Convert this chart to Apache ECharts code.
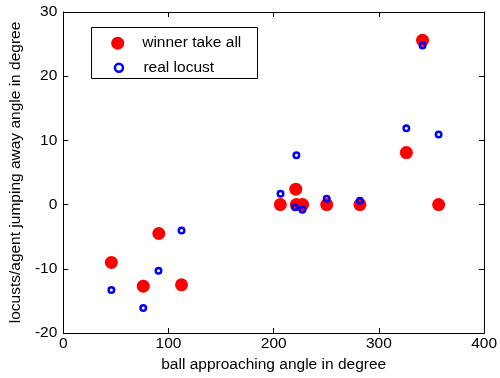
<!DOCTYPE html>
<html>
<head>
<meta charset="utf-8">
<script src="https://cdn.jsdelivr.net/npm/echarts@6/dist/echarts.min.js"></script>
<style>html,body{margin:0;padding:0;background:#fff;}#c{width:500px;height:378px;}</style>
</head>
<body>
<div id="c"></div>
<script>
// Data
const winnerX = [45.7, 76, 90.8, 112.4, 206.3, 221, 221.5, 227.5, 250.4, 282, 326.1, 341.5, 356.8];
const winnerY = [-9.0, -12.7, -4.5, -12.5, 0, 2.4, 0, 0, 0, 0, 8.1, 25.6, 0];
const locustX = [45.7, 76, 90.5, 112.4, 206.5, 221.6, 220.3, 227.3, 250.4, 282, 326.1, 341.5, 356.8];
const locustY = [-13.3, -16.1, -10.3, -4.05, 1.7, 7.7, -0.4, -0.8, 0.9, 0.6, 11.9, 24.8, 10.9];
const xTicks = [0, 100, 200, 300, 400];
const yTicks = [-20, -10, 0, 10, 20, 30];
const seriesNames = ['winner take all', 'real locust'];
const xTitle = 'ball approaching angle in degree';
const yTitle = 'locusts/agent jumping away angle in degree';

const FONT = 'Liberation Sans, Arial, sans-serif';
const FS = 15.5;
const zip = (a, b) => a.map((v, i) => [v, b[i]]);

const axisCommon = {
  axisLine: { show: true, onZero: false, lineStyle: { color: '#000', width: 1 } },
  axisTick: { show: true, inside: true, length: 5, lineStyle: { color: '#000' } },
  splitLine: { show: false }
};

const chart = echarts.init(document.getElementById('c'), null, { renderer: 'canvas' });
chart.setOption({
  animation: false,
  backgroundColor: '#fff',
  grid: { left: 59, right: 15.5, top: 12, bottom: 45, containLabel: false },
  xAxis: [
    Object.assign({}, axisCommon, {
      type: 'value', position: 'bottom',
      min: xTicks[0], max: xTicks[xTicks.length - 1], interval: xTicks[1] - xTicks[0],
      name: xTitle, nameLocation: 'middle', nameGap: 23,
      nameTextStyle: { color: '#000', fontFamily: FONT, fontSize: FS },
      axisLabel: { color: '#000', fontFamily: FONT, fontSize: FS, margin: 3 }
    }),
    Object.assign({}, axisCommon, {
      type: 'value', position: 'top',
      min: xTicks[0], max: xTicks[xTicks.length - 1], interval: xTicks[1] - xTicks[0],
      axisLabel: { show: false }
    })
  ],
  yAxis: [
    Object.assign({}, axisCommon, {
      type: 'value', position: 'left',
      min: yTicks[0], max: yTicks[yTicks.length - 1], interval: yTicks[1] - yTicks[0],
      name: yTitle, nameLocation: 'middle', nameGap: 38,
      nameTextStyle: { color: '#000', fontFamily: FONT, fontSize: FS },
      axisLabel: { color: '#000', fontFamily: FONT, fontSize: FS, margin: 6 }
    }),
    Object.assign({}, axisCommon, {
      type: 'value', position: 'right',
      min: yTicks[0], max: yTicks[yTicks.length - 1], interval: yTicks[1] - yTicks[0],
      axisLabel: { show: false }
    })
  ],
  graphic: [{
    type: 'rect', left: 91, top: 27, z: 3,
    shape: { width: 166, height: 51 },
    style: { fill: '#fff', stroke: '#000', lineWidth: 1 }
  }],
  legend: [
    {
      data: [seriesNames[0]], left: 111.2, top: 35.2, padding: 0,
      itemWidth: 13, itemHeight: 13, icon: 'circle', z: 5,
      itemStyle: { color: '#ff0000', borderWidth: 0 },
      textStyle: { color: '#000', fontFamily: FONT, fontSize: FS, padding: [0, 0, 0, 13] }
    },
    {
      data: [seriesNames[1]], left: 113.7, top: 59.7, padding: 0,
      itemWidth: 8, itemHeight: 8, icon: 'circle', z: 5,
      itemStyle: { color: '#fff', borderColor: '#0000ff', borderWidth: 2.5 },
      textStyle: { color: '#000', fontFamily: FONT, fontSize: FS, padding: [0, 0, 0, 15.5] }
    }
  ],
  series: [
    {
      name: seriesNames[0], type: 'scatter', symbol: 'circle', symbolSize: 13,
      data: zip(winnerX, winnerY),
      itemStyle: { color: '#ff0000', opacity: 1 },
      emphasis: { disabled: true }
    },
    {
      name: seriesNames[1], type: 'scatter', symbol: 'circle', symbolSize: 5.5,
      data: zip(locustX, locustY),
      itemStyle: { color: 'rgba(0,0,0,0)', borderColor: '#0000ff', borderWidth: 2.5, opacity: 1 },
      emphasis: { disabled: true }
    }
  ]
});
</script>
</body>
</html>
